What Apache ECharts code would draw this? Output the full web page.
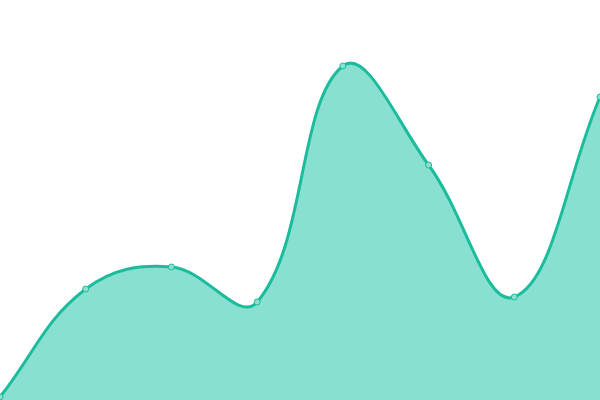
<!DOCTYPE html>
<html>
<head>
<meta charset="utf-8">
<script src="https://cdn.jsdelivr.net/npm/echarts@6/dist/echarts.min.js"></script>
<style>html,body{margin:0;padding:0;background:#fff}#c{width:600px;height:400px}</style>
</head>
<body>
<div id="c"></div>
<script>
var categories = ['1','2','3','4','5','6','7','8'];
var values = [3, 111, 133, 98, 334, 235, 103, 303];

var TENSION = 0.4;
function dist(a, b) { return Math.sqrt((a[0]-b[0])*(a[0]-b[0]) + (a[1]-b[1])*(a[1]-b[1])); }

function renderCurve(params, api) {
  if (params.dataIndex !== 0) return null;
  var pts = values.map(function (v, i) { return api.coord([i, v]); });
  var cs = params.coordSys;
  var x0 = cs.x, x1 = cs.x + cs.width, y0 = cs.y, y1 = cs.y + cs.height;
  var cps = pts.map(function (cur, i) {
    var prev = pts[i-1] || cur, next = pts[i+1] || cur;
    var d01 = dist(cur, prev), d12 = dist(next, cur);
    var s01 = d01 / (d01 + d12), s12 = d12 / (d01 + d12);
    if (isNaN(s01)) s01 = 0; if (isNaN(s12)) s12 = 0;
    var fa = TENSION * s01, fb = TENSION * s12;
    var p = [cur[0] - fa*(next[0]-prev[0]), cur[1] - fa*(next[1]-prev[1])];
    var n = [cur[0] + fb*(next[0]-prev[0]), cur[1] + fb*(next[1]-prev[1])];
    function cap(q) { return [Math.min(Math.max(q[0], x0), x1), Math.min(Math.max(q[1], y0), y1)]; }
    return {prev: cap(p), next: cap(n)};
  });
  var d = 'M' + pts[0][0] + ',' + pts[0][1];
  for (var i = 1; i < pts.length; i++) {
    var a = cps[i-1].next, b = cps[i].prev;
    d += ' C' + a[0] + ',' + a[1] + ' ' + b[0] + ',' + b[1] + ' ' + pts[i][0] + ',' + pts[i][1];
  }
  var base = api.coord([0, 0])[1];
  var areaD = d + ' L' + pts[pts.length-1][0] + ',' + base + ' L' + pts[0][0] + ',' + base + ' Z';
  return {
    type: 'group',
    children: [
      {type: 'path', shape: {pathData: areaD}, style: {fill: '#8ae0d0', stroke: null}},
      {type: 'path', shape: {pathData: d}, style: {fill: null, stroke: '#1abc9c', lineWidth: 3}}
    ]
  };
}

var chart = echarts.init(document.getElementById('c'));
chart.setOption({
  animation: false,
  grid: {left: 0, right: 0, top: 0, bottom: 0},
  xAxis: {type: 'category', data: categories, boundaryGap: false, show: false},
  yAxis: {type: 'value', min: 0, max: 400, show: false},
  series: [{
    type: 'custom',
    data: values.map(function (v, i) { return [i, v]; }),
    renderItem: renderCurve,
    clip: true,
    z: 1
  }, {
    type: 'line',
    data: values,
    symbol: 'circle',
    symbolSize: 6,
    itemStyle: {color: '#8be0d0', borderColor: '#1abc9c', borderWidth: 1},
    lineStyle: {width: 0, opacity: 0},
    z: 3
  }]
});
</script>
</body>
</html>
